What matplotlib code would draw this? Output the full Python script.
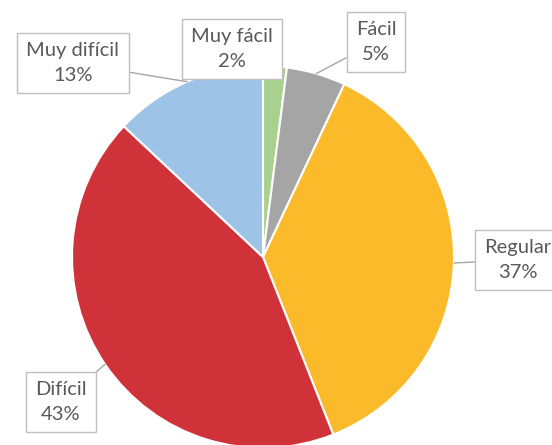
import numpy as np
import matplotlib
matplotlib.use("Agg")
import matplotlib.pyplot as plt

# slices, clockwise from 12 o'clock
labels = ["Muy fácil", "Fácil", "Regular", "Difícil", "Muy difícil"]
values = [2, 5, 37, 43, 13]
colors = ["#A9D18E", "#A5A5A5", "#FBBA2A", "#CF3238", "#9DC3E6"]

# label box centres (pixel coords, y up)
label_pos = {
    "Muy fácil": (232, 396),
    "Fácil": (376, 403),
    "Regular": (518, 185),
    "Difícil": (61, 43),
    "Muy difícil": (73, 382),
}

plt.rcParams["font.family"] = ["Lato", "DejaVu Sans"]

fig = plt.figure(figsize=(5.52, 4.45), dpi=100)
ax = fig.add_axes([0, 0, 1, 1])

center = (263, 188)
radius = 191
wedges, _ = ax.pie(values, colors=colors, startangle=90, counterclock=False,
                   center=center, radius=radius, frame=True,
                   wedgeprops=dict(edgecolor="white", linewidth=1.5))
ax.set_xlim(0, 552)
ax.set_ylim(0, 445)
ax.set_aspect("equal")
ax.axis("off")

total = sum(values)
for w, lab, v in zip(wedges, labels, values):
    th = np.deg2rad((w.theta1 + w.theta2) / 2)
    anchor = (center[0] + radius * np.cos(th), center[1] + radius * np.sin(th))
    ax.annotate(f"{lab}\n{round(100 * v / total)}%", xy=anchor,
                xytext=label_pos[lab], ha="center", va="center",
                fontsize=14.5, color="#595959", linespacing=1.55,
                bbox=dict(boxstyle="square,pad=0.45", fc="white",
                          ec="#BFBFBF", lw=1),
                arrowprops=dict(arrowstyle="-", color="#A6A6A6", lw=1,
                                shrinkA=0, shrinkB=0),
                zorder=5)

fig.savefig("out.png", dpi=100)
